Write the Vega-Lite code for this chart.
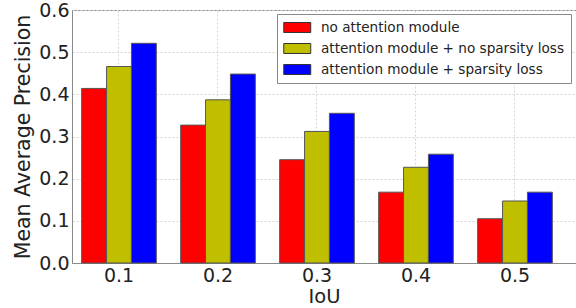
{
  "$schema": "https://vega.github.io/schema/vega-lite/v6.json",
  "autosize": "none",
  "width": 504,
  "height": 253,
  "padding": {"left": 72, "top": 10, "right": 0, "bottom": 45},
  "background": "white",
  "config": {
    "font": "DejaVu Sans",
    "view": {"stroke": "#8a8a8a", "strokeWidth": 1},
    "axis": {"labelFont": "DejaVu Sans", "titleFont": "DejaVu Sans", "labelColor": "#222", "titleColor": "#222", "titleFontWeight": "normal"}
  },
  "data": {
    "values": [
      {"iou": "0.1", "method": "no attention module", "map": 0.414},
      {"iou": "0.1", "method": "attention module + no sparsity loss", "map": 0.466},
      {"iou": "0.1", "method": "attention module + sparsity loss", "map": 0.521},
      {"iou": "0.2", "method": "no attention module", "map": 0.327},
      {"iou": "0.2", "method": "attention module + no sparsity loss", "map": 0.387},
      {"iou": "0.2", "method": "attention module + sparsity loss", "map": 0.448},
      {"iou": "0.3", "method": "no attention module", "map": 0.245},
      {"iou": "0.3", "method": "attention module + no sparsity loss", "map": 0.312},
      {"iou": "0.3", "method": "attention module + sparsity loss", "map": 0.355},
      {"iou": "0.4", "method": "no attention module", "map": 0.168},
      {"iou": "0.4", "method": "attention module + no sparsity loss", "map": 0.227},
      {"iou": "0.4", "method": "attention module + sparsity loss", "map": 0.258},
      {"iou": "0.5", "method": "no attention module", "map": 0.105},
      {"iou": "0.5", "method": "attention module + no sparsity loss", "map": 0.147},
      {"iou": "0.5", "method": "attention module + sparsity loss", "map": 0.168}
    ]
  },
  "mark": {"type": "bar", "stroke": "#555", "strokeWidth": 1},
  "encoding": {
    "x": {
      "field": "iou", "type": "nominal", "title": "IoU",
      "scale": {"paddingInner": 0.246, "paddingOuter": 0.1685, "align": 0.29},
      "axis": {"labelAngle": 0, "labelFontSize": 19, "titleFontSize": 19.5, "labelPadding": 3,
               "titleY": 39, "titleBaseline": "alphabetic",
               "ticks": false, "domainColor": "#8a8a8a", "grid": true, "gridColor": "#d5d5d5", "gridDash": [2, 2]}
    },
    "xOffset": {
      "field": "method", "type": "nominal",
      "sort": ["no attention module", "attention module + no sparsity loss", "attention module + sparsity loss"],
      "scale": {"paddingInner": 0, "paddingOuter": 0}
    },
    "y": {
      "field": "map", "type": "quantitative", "title": "Mean Average Precision",
      "scale": {"domain": [0, 0.6], "nice": false},
      "axis": {"values": [0, 0.1, 0.2, 0.3, 0.4, 0.5, 0.6], "format": ".1f", "labelFontSize": 19, "titleFontSize": 20.5,
               "labelPadding": 3, "titlePadding": 5, "ticks": false, "domainColor": "#8a8a8a",
               "gridColor": "#d5d5d5", "gridDash": [2, 2]}
    },
    "color": {
      "field": "method", "type": "nominal",
      "sort": ["no attention module", "attention module + no sparsity loss", "attention module + sparsity loss"],
      "scale": {"domain": ["no attention module", "attention module + no sparsity loss", "attention module + sparsity loss"],
                "range": ["#ff0000", "#bfbf00", "#0000ff"]},
      "legend": {
        "title": null, "orient": "none", "legendX": 205, "legendY": 4,
        "symbolType": "M-1,-0.74H3V0.74H-1Z", "symbolSize": 182, "symbolStrokeColor": "#333", "symbolStrokeWidth": 1,
        "symbolOpacity": 1,
        "labelFontSize": 13.6, "labelFont": "DejaVu Sans", "labelColor": "#222", "labelLimit": 400, "labelOffset": 23,
        "rowPadding": 6, "padding": 6, "strokeColor": "#888", "fillColor": "white", "cornerRadius": 0
      }
    }
  }
}
